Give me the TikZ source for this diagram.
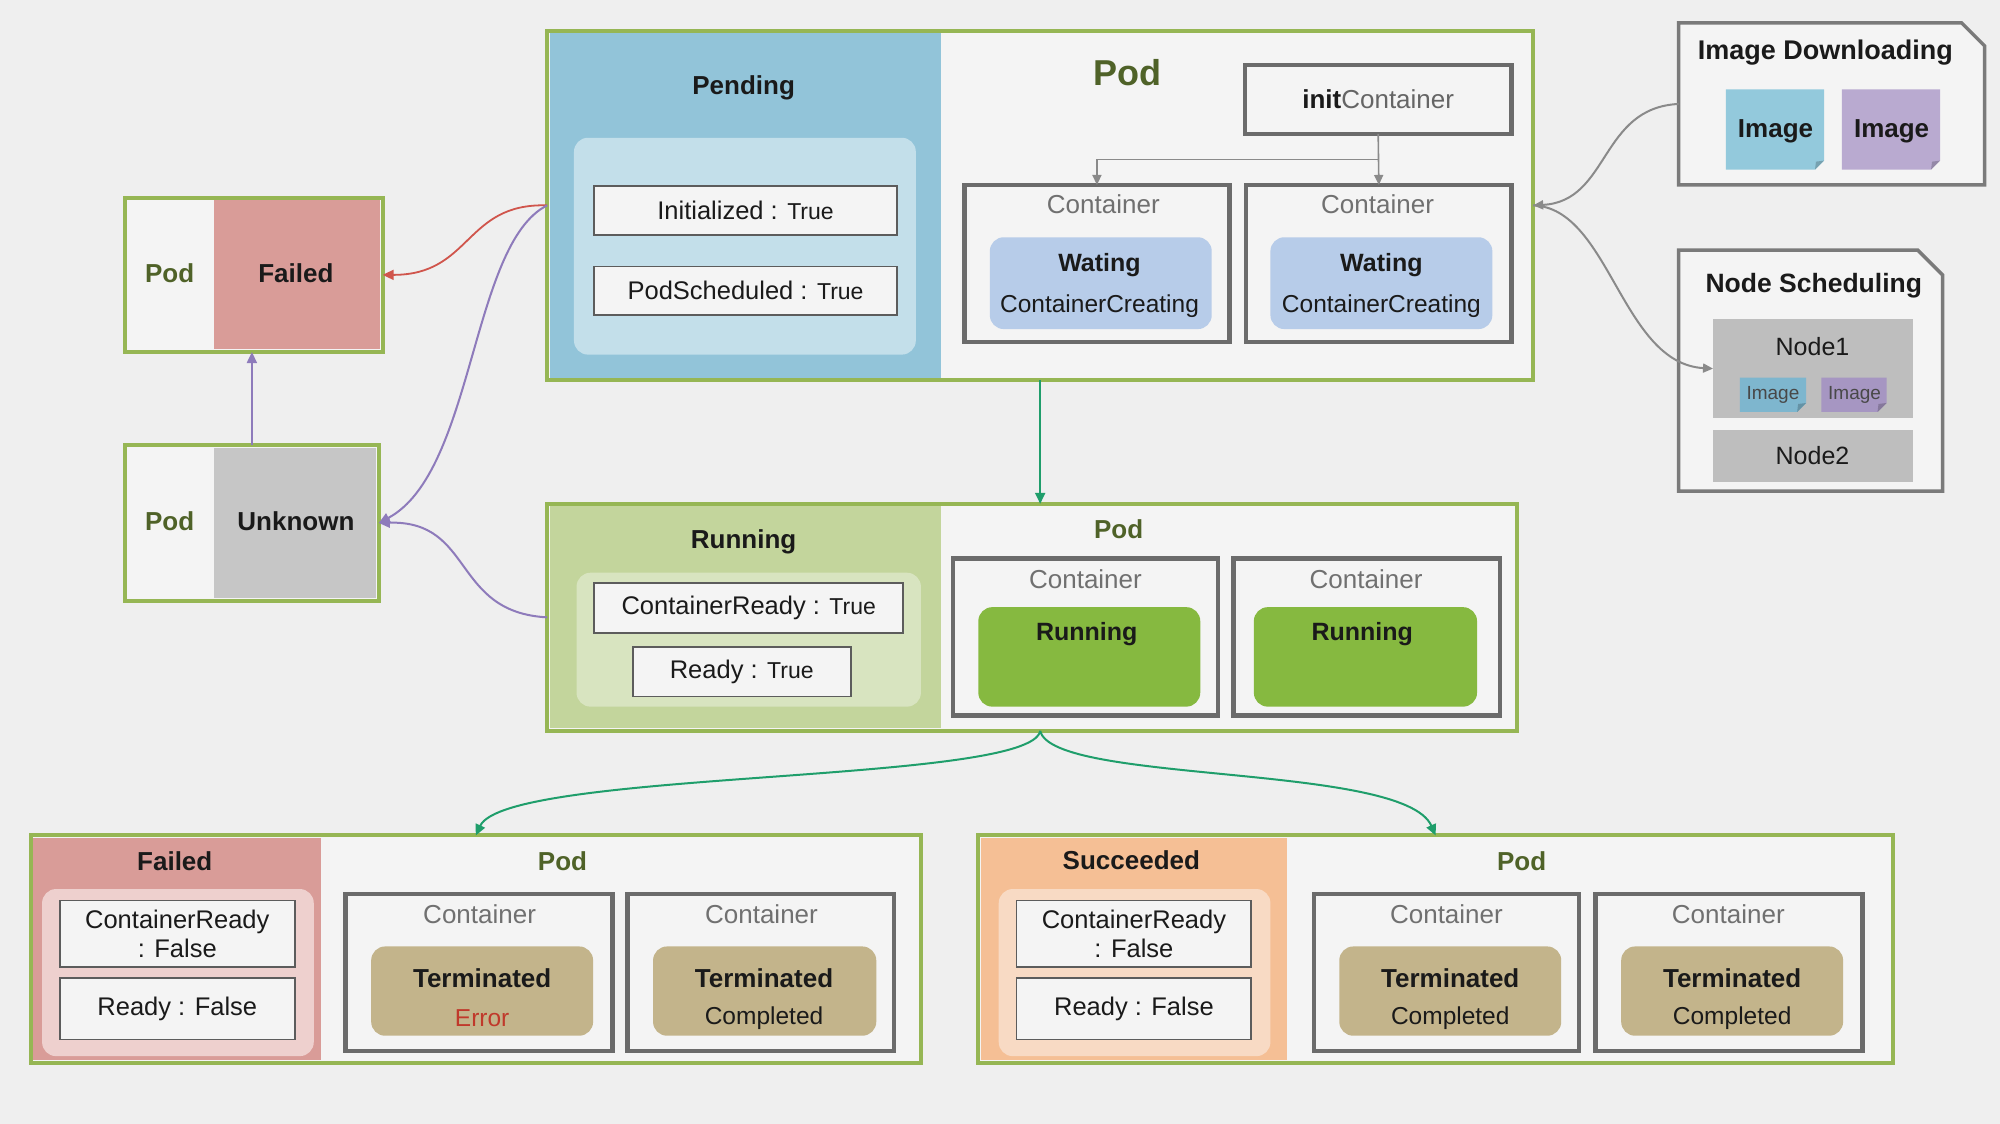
\documentclass[tikz,border=0pt]{standalone}
\usepackage{fontspec}
\setmainfont{Liberation Sans}
\usetikzlibrary{arrows.meta,calc}
\definecolor{bg}{HTML}{EFEFEF}
\definecolor{frameG}{HTML}{96B654}
\definecolor{podw}{HTML}{F4F4F4}
\definecolor{pendC}{HTML}{92C4D9}
\definecolor{pendIn}{HTML}{C3DFEA}
\definecolor{waitC}{HTML}{B7CCE9}
\definecolor{runC}{HTML}{C3D59C}
\definecolor{runIn}{HTML}{D8E4C0}
\definecolor{runBox}{HTML}{86B940}
\definecolor{failC}{HTML}{D99C98}
\definecolor{failIn}{HTML}{EED0CE}
\definecolor{sucC}{HTML}{F5BF95}
\definecolor{sucIn}{HTML}{F8DAC4}
\definecolor{termC}{HTML}{C3B48B}
\definecolor{unkC}{HTML}{C6C6C6}
\definecolor{nodeC}{HTML}{BEBEBE}
\definecolor{imgB}{HTML}{93C9DC}
\definecolor{imgP}{HTML}{B9AAD0}
\definecolor{imgBs}{HTML}{7EB6CE}
\definecolor{imgPs}{HTML}{A696C2}
\definecolor{podG}{HTML}{4F6228}
\definecolor{tealA}{HTML}{1F9E6B}
\definecolor{redA}{HTML}{D0554C}
\definecolor{purA}{HTML}{8E7BBB}
\definecolor{grayA}{HTML}{8A8A8A}
\definecolor{ctrG}{HTML}{6B6B6B}
\definecolor{condB}{HTML}{5C5C5C}
\definecolor{txtG}{HTML}{707070}
\definecolor{errR}{HTML}{C0392B}
\definecolor{txtK}{HTML}{1A1A1A}
\newcommand\mybox[7]{\node[#6,inner sep=0pt,outer sep=0pt,minimum width={(#4-#2)*1.2755pt},minimum height={(#5-#3)*1.2755pt}] (#1) at ({(#2+#4)/2},{(#3+#5)/2}) {#7};}
\newcommand\mytile[6]{%
  \mybox{#1}{#2}{#3}{#4}{#5}{}{}
  \fill[#6] (#1.north west) -- (#1.north east) -- ([yshift=9pt]#1.south east) -- ([xshift=-9pt]#1.south east) -- (#1.south west) -- cycle;
  \fill[#6!80!black] ([yshift=9pt]#1.south east) -- ([xshift=-9pt]#1.south east) -- ([xshift=-8pt,yshift=8pt]#1.south east) -- cycle;}
\begin{document}
\begin{tikzpicture}[x=1.2755pt,y=-1.2755pt,
  frame/.style={draw=frameG,line width=4pt},
  ctr/.style={draw=ctrG,line width=4.5pt},
  cond/.style={draw=condB,line width=1.8pt,fill=podw},
  inbox/.style={rounded corners=14pt},
  ttl/.style={font=\bfseries\fontsize{26}{30}\selectfont,text=txtK},
  podl/.style={font=\bfseries\fontsize{26}{30}\selectfont,text=podG},
  lbl/.style={font=\fontsize{25.5}{29}\selectfont,text=txtK,align=center},
  ctrl/.style={font=\fontsize{26}{30}\selectfont,text=txtG},
  sub/.style={font=\fontsize{24.5}{28}\selectfont,text=txtK},
  sidebox/.style={draw=ctrG!90,line width=3.5pt,fill=podw},
  tealarr/.style={draw=tealA,line width=2pt,-{Triangle[length=11pt,width=10pt]}},
  redarr/.style={draw=redA,line width=1.8pt,-{Triangle[length=11pt,width=10pt]}},
  purarr/.style={draw=purA,line width=2pt,-{Triangle[length=11pt,width=10pt]}},
  grayarr/.style={draw=grayA,line width=2pt,-{Triangle[length=10pt,width=9pt]}}
]
\fill[bg] (0,0) rectangle (1568,881);
\useasboundingbox (0,0) rectangle (1568,881);

% ---------------- Pending / Pod (top)
\mybox{pend}{429}{24}{1202}{298}{frame,fill=podw}{}
\mybox{pendL}{431}{26}{738}{296}{fill=pendC}{}
\node[ttl] (tPend) at (583,69) {Pending};
\mybox{pendIn}{450}{108}{718}{278}{inbox,fill=pendIn}{}
\mybox{initT}{466}{146}{703}{184}{cond,lbl}{Initialized : {\fontsize{23}{26}\selectfont True}}
\mybox{schT}{466}{209}{703}{247}{cond,lbl}{PodScheduled : {\fontsize{23}{26}\selectfont True}}
\node[font=\bfseries\fontsize{36}{40}\selectfont,text=podG] (tPod1) at (884,57) {Pod};
\mybox{init}{976}{51}{1185}{105}{ctr,fill=podw,font=\fontsize{26}{30}\selectfont}{\textbf{\color{txtK}init}{\color{txtG!90!black}Container}}
\mybox{c1}{756}{145}{964}{268}{ctr,fill=podw}{}
\mybox{c2}{977}{145}{1185}{268}{ctr,fill=podw}{}
\node[ctrl] (c1t) at (865,160) {Container};
\node[ctrl] (c2t) at (1080,160) {Container};
\mybox{w1}{776}{186}{950}{258}{inbox,fill=waitC}{}
\mybox{w2}{996}{186}{1170}{258}{inbox,fill=waitC}{}
\node[ttl,font=\bfseries\fontsize{25}{29}\selectfont] (w1a) at (862,208) {Wating};
\node[sub] (w1b) at (862,240) {ContainerCreating};
\node[ttl,font=\bfseries\fontsize{25}{29}\selectfont] (w2a) at (1083,208) {Wating};
\node[sub] (w2b) at (1083,240) {ContainerCreating};
\coordinate (jn) at ($(init.south)!0.5!(c2.north)$);
\draw[grayarr,line width=1.6pt] (init.south) -- (c2.north);
\draw[grayarr,line width=1.6pt] (jn) -| (c1.north);

% ---------------- Failed / Unknown small pods
\mybox{pF}{98}{155}{300}{276}{frame,fill=podw}{}
\mybox{pFr}{168}{157}{298}{274}{fill=failC}{}
\node[podl] (pFa) at (133,214) {Pod};
\node[ttl] (pFb) at (232,214) {Failed};
\mybox{pU}{98}{349}{297}{471}{frame,fill=podw}{}
\mybox{pUr}{168}{351}{295}{469}{fill=unkC}{}
\node[podl] (pUa) at (133,409) {Pod};
\node[ttl] (pUb) at (232,409) {Unknown};

% ---------------- Running
\mybox{run}{429}{395}{1189}{573}{frame,fill=podw}{}
\mybox{runL}{431}{397}{738}{571}{fill=runC}{}
\node[ttl] (tRun) at (583,425) {Running};
\mybox{runIn}{452}{449}{722}{554}{inbox,fill=runIn}{}
\mybox{crT}{466}{457}{708}{496}{cond,lbl}{ContainerReady : {\fontsize{23}{26}\selectfont True}}
\mybox{rdT}{496}{507}{667}{546}{cond,lbl}{Ready : {\fontsize{23}{26}\selectfont True}}
\node[podl] (tPod2) at (877,415) {Pod};
\mybox{rc1}{747}{438}{955}{561}{ctr,fill=podw}{}
\mybox{rc2}{967}{438}{1176}{561}{ctr,fill=podw}{}
\node[ctrl] (rc1t) at (851,454) {Container};
\node[ctrl] (rc2t) at (1071,454) {Container};
\mybox{r1}{767}{476}{941}{554}{inbox,fill=runBox}{}
\mybox{r2}{983}{476}{1158}{554}{inbox,fill=runBox}{}
\node[ttl,font=\bfseries\fontsize{25}{29}\selectfont] (r1a) at (852,497) {Running};
\node[ttl,font=\bfseries\fontsize{25}{29}\selectfont] (r2a) at (1068,497) {Running};

% ---------------- Failed (bottom left)
\mybox{fl}{24}{655}{722}{833}{frame,fill=podw}{}
\mybox{flL}{26}{657}{252}{831}{fill=failC}{}
\node[ttl] (tFl) at (137,675) {Failed};
\mybox{flIn}{33}{697}{246}{828}{inbox,fill=failIn}{}
\mybox{fcr}{47}{706}{231}{758}{cond,lbl}{ContainerReady\\: False}
\mybox{frd}{47}{767}{231}{815}{cond,lbl}{Ready : False}
\node[podl] (tPod3) at (441,675) {Pod};
\mybox{fc1}{271}{701}{480}{824}{ctr,fill=podw}{}
\mybox{fc2}{492}{701}{701}{824}{ctr,fill=podw}{}
\node[ctrl] (fc1t) at (376,717) {Container};
\node[ctrl] (fc2t) at (597,717) {Container};
\mybox{ft1}{291}{742}{465}{812}{inbox,fill=termC}{}
\mybox{ft2}{512}{742}{687}{812}{inbox,fill=termC}{}
\node[ttl] (ft1a) at (378,767) {Terminated};
\node[sub,text=errR] (ft1b) at (378,798) {Error};
\node[ttl] (ft2a) at (599,767) {Terminated};
\node[sub] (ft2b) at (599,798) {Completed};

% ---------------- Succeeded (bottom right)
\mybox{sc}{767}{655}{1484}{833}{frame,fill=podw}{}
\mybox{scL}{769}{657}{1009}{831}{fill=sucC}{}
\node[ttl] (tSc) at (887,674) {Succeeded};
\mybox{scIn}{783}{697}{996}{828}{inbox,fill=sucIn}{}
\mybox{scr}{797}{706}{981}{758}{cond,lbl}{ContainerReady\\: False}
\mybox{srd}{797}{767}{981}{815}{cond,lbl}{Ready : False}
\node[podl] (tPod4) at (1193,675) {Pod};
\mybox{sc1}{1030}{701}{1238}{824}{ctr,fill=podw}{}
\mybox{sc2}{1251}{701}{1460}{824}{ctr,fill=podw}{}
\node[ctrl] (sc1t) at (1134,717) {Container};
\node[ctrl] (sc2t) at (1355,717) {Container};
\mybox{st1}{1050}{742}{1224}{812}{inbox,fill=termC}{}
\mybox{st2}{1271}{742}{1445}{812}{inbox,fill=termC}{}
\node[ttl] (st1a) at (1137,767) {Terminated};
\node[sub] (st1b) at (1137,798) {Completed};
\node[ttl] (st2a) at (1358,767) {Terminated};
\node[sub] (st2b) at (1358,798) {Completed};

% ---------------- Image Downloading
\mybox{imgdl}{1316}{18}{1556}{145}{}{}
\draw[sidebox] (imgdl.south west) -- (imgdl.north west) -- ([xshift=-23pt]imgdl.north east) -- ([yshift=-23pt]imgdl.north east) -- (imgdl.south east) -- cycle;
\node[ttl,font=\bfseries\fontsize{27}{31}\selectfont] (tImg) at (1431,41) {Image Downloading};
\mytile{ib}{1353}{70}{1430}{133}{imgB}
\mytile{ip}{1444}{70}{1521}{133}{imgP}
\node[ttl] (ibt) at (1392,103) {Image};
\node[ttl] (ipt) at (1483,103) {Image};

% ---------------- Node Scheduling
\mybox{ns}{1316}{196}{1523}{385}{}{}
\draw[sidebox] (ns.south west) -- (ns.north west) -- ([xshift=-25pt]ns.north east) -- ([yshift=-25pt]ns.north east) -- (ns.south east) -- cycle;
\node[ttl,font=\bfseries\fontsize{26.5}{30}\selectfont] (tNs) at (1422,224) {Node Scheduling};
\mybox{n1}{1343}{250}{1500}{328}{fill=nodeC}{}
\mybox{n2}{1343}{337}{1500}{378}{fill=nodeC}{}
\node[lbl,font=\fontsize{25}{29}\selectfont] (n1t) at (1421,272) {Node1};
\node[lbl,font=\fontsize{25}{29}\selectfont] (n2t) at (1421,357) {Node2};
\mytile{sb}{1364}{296}{1416}{323}{imgBs}
\mytile{sp}{1428}{296}{1479}{323}{imgPs}
\node[font=\fontsize{19}{22}\selectfont,text=txtK!80] (sbt) at (1390,310) {Image};
\node[font=\fontsize{19}{22}\selectfont,text=txtK!80] (spt) at (1454,310) {Image};

% ---------------- connectors
\draw[tealarr] (pend.south) -- (pend.south |- run.north);
\coordinate (rb) at (pend.south |- run.south);
\draw[tealarr] (rb) .. controls +(-7,42) and +(24,-52) .. (fl.north);
\draw[tealarr] (rb) .. controls +(10,42) and +(-25,-57) .. (sc.north);
\draw[redarr] (pend.west) .. controls +(-65,-2) and +(70,0) .. (pF.east);
\draw[purarr] (pend.west) .. controls +(-60,30) and +(75,-40) .. (pU.east);
\draw[purarr] (run.west) .. controls +(-75,-4) and +(75,-2) .. (pU.east);
\draw[purarr] (pU.north) -- (pU.north |- pF.south);
\draw[grayarr] (imgdl.west) .. controls +(-62,3) and +(60,-3) .. (pend.east);
\draw[grayarr] (pend.east) .. controls +(60,2) and +(-72,-4) .. (n1.west);
\end{tikzpicture}
\end{document}
